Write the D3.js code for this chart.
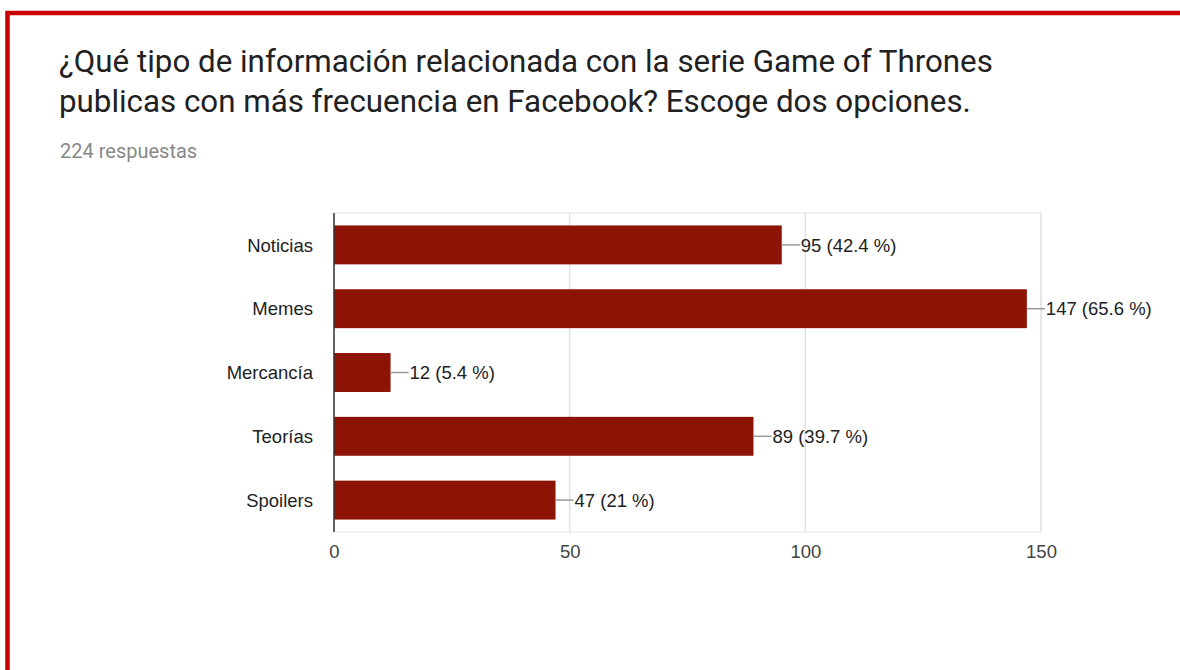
<!DOCTYPE html>
<html>
<head>
<meta charset="utf-8">
<script src="https://cdn.jsdelivr.net/npm/d3@7"></script>
<style>
  html, body { margin: 0; padding: 0; background: #fff; }
  svg { display: block; }
</style>
</head>
<body>
<div id="chart"></div>
<script>
const width = 1180;
const height = 670;

const titleLines = [
  '¿Qué tipo de información relacionada con la serie Game of Thrones',
  'publicas con más frecuencia en Facebook? Escoge dos opciones.',
];
const subtitle = '224 respuestas';
const categories = ['Noticias', 'Memes', 'Mercancía', 'Teorías', 'Spoilers'];
const counts = [95, 147, 12, 89, 47];
const percents = ['42.4', '65.6', '5.4', '39.7', '21'];
const tickValues = [0, 50, 100, 150];

const plot = { left: 334, right: 1041, top: 213, bottom: 532 };
const labelFont = '"Liberation Sans", Arial, sans-serif';

const svg = d3.select('#chart').append('svg').attr('width', width).attr('height', height);

// red frame, runs off the right and bottom edges
svg
  .append('rect')
  .attr('x', 7.5)
  .attr('y', 13)
  .attr('width', width + 20)
  .attr('height', height + 20)
  .attr('fill', 'none')
  .attr('stroke', '#c80000')
  .attr('stroke-width', 4.5);

svg
  .append('g')
  .selectAll('text')
  .data(titleLines)
  .join('text')
  .attr('x', 59)
  .attr('y', (d, i) => 72 + i * 40)
  .attr('fill', '#212121')
  .style('font-family', 'Roboto, sans-serif')
  .style('font-size', '31.3px')
  .text((d) => d);

svg
  .append('text')
  .attr('x', 60)
  .attr('y', 158)
  .attr('fill', '#888')
  .style('font-family', 'Roboto, sans-serif')
  .style('font-size', '20px')
  .text(subtitle);

const x = d3.scaleLinear().domain([0, 150]).range([plot.left, plot.right]);
const y = d3
  .scaleBand()
  .domain(categories)
  .range([plot.top, plot.bottom])
  .paddingInner(0.39)
  .paddingOuter(0.195);

const data = categories.map((c, i) => ({ cat: c, n: counts[i], pct: percents[i] }));

// plot frame + gridlines
svg
  .append('rect')
  .attr('x', plot.left)
  .attr('y', plot.top)
  .attr('width', plot.right - plot.left)
  .attr('height', plot.bottom - plot.top)
  .attr('fill', 'none')
  .attr('stroke', '#ebebeb')
  .attr('stroke-width', 1.5);

svg
  .append('g')
  .selectAll('line')
  .data(tickValues.slice(1))
  .join('line')
  .attr('x1', (d) => x(d))
  .attr('x2', (d) => x(d))
  .attr('y1', plot.top)
  .attr('y2', plot.bottom)
  .attr('stroke', '#e3e3e3')
  .attr('stroke-width', 1.5);

const xAxis = d3.axisBottom(x).tickValues(tickValues).tickSize(0).tickPadding(13);
svg
  .append('g')
  .attr('transform', `translate(0, ${plot.bottom})`)
  .call(xAxis)
  .call((g) => g.select('.domain').remove())
  .selectAll('text')
  .attr('fill', '#444')
  .style('font-family', labelFont)
  .style('font-size', '18.5px');

const yAxis = d3.axisLeft(y).tickSize(0).tickPadding(21);
svg
  .append('g')
  .attr('transform', `translate(${plot.left}, 0)`)
  .call(yAxis)
  .call((g) => g.select('.domain').remove())
  .selectAll('text')
  .attr('fill', '#222')
  .attr('dy', '0.36em')
  .style('font-family', labelFont)
  .style('font-size', '18.5px');

svg
  .append('g')
  .selectAll('rect')
  .data(data)
  .join('rect')
  .attr('x', x(0))
  .attr('y', (d) => y(d.cat))
  .attr('width', (d) => x(d.n) - x(0))
  .attr('height', y.bandwidth())
  .attr('fill', '#8d1305');

// leader lines and value labels
const labels = svg.append('g');
labels
  .selectAll('line')
  .data(data)
  .join('line')
  .attr('x1', (d) => x(d.n))
  .attr('x2', (d) => x(d.n) + 18)
  .attr('y1', (d) => y(d.cat) + y.bandwidth() / 2)
  .attr('y2', (d) => y(d.cat) + y.bandwidth() / 2)
  .attr('stroke', '#999')
  .attr('stroke-width', 1.5);

labels
  .selectAll('text')
  .data(data)
  .join('text')
  .attr('x', (d) => x(d.n) + 19)
  .attr('y', (d) => y(d.cat) + y.bandwidth() / 2)
  .attr('dy', '0.36em')
  .attr('fill', '#222')
  .style('font-family', labelFont)
  .style('font-size', '18.5px')
  .text((d) => `${d.n} (${d.pct} %)`);

// zero baseline
svg
  .append('line')
  .attr('x1', x(0))
  .attr('x2', x(0))
  .attr('y1', plot.top)
  .attr('y2', plot.bottom)
  .attr('stroke', '#333')
  .attr('stroke-width', 1.5);
</script>
</body>
</html>
